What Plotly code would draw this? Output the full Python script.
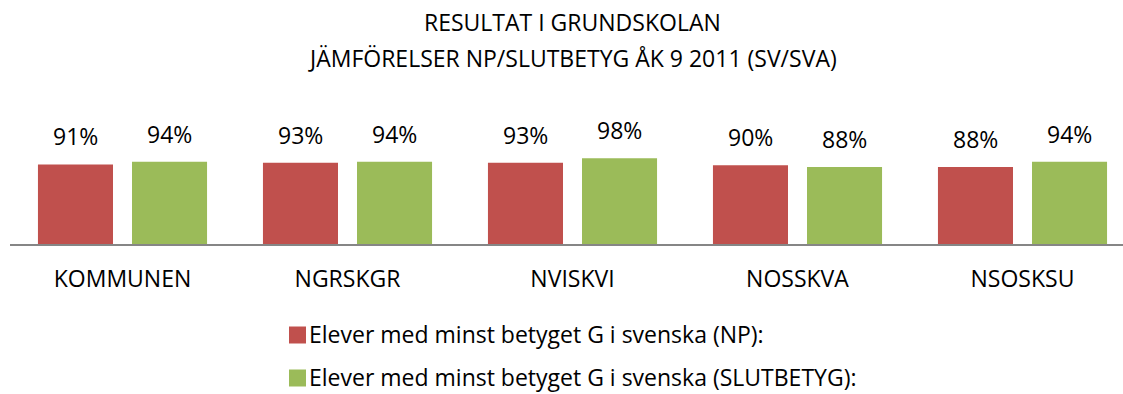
import plotly.graph_objects as go

# Skolor / enheter
categories = ["KOMMUNEN", "NGRSKGR", "NVISKVI", "NOSSKVA", "NSOSKSU"]

# Andel elever med minst betyget G (andel, 0-1)
np_values = [0.91, 0.93, 0.93, 0.90, 0.88]
slutbetyg_values = [0.94, 0.94, 0.98, 0.88, 0.94]

series_names = [
    "Elever med minst betyget G i svenska (NP):",
    "Elever med minst betyget G i svenska (SLUTBETYG):",
]
series_colors = ["#C0504D", "#9BBB59"]

title_lines = [
    "RESULTAT I GRUNDSKOLAN",
    "JÄMFÖRELSER NP/SLUTBETYG ÅK 9 2011 (SV/SVA)",
]

FONT = "Open Sans"
FS = 23
W, H = 1123, 394
L, R, T, B = 10, 0, 139, 150

fig = go.Figure()
for name, vals, color in zip(series_names, [np_values, slutbetyg_values], series_colors):
    fig.add_trace(go.Bar(
        x=categories, y=vals, name=name,
        marker=dict(color=color, line=dict(width=0)),
        showlegend=False,
    ))

# Percent labels above each bar
annotations = []
for k, vals in enumerate([np_values, slutbetyg_values]):
    for i, v in enumerate(vals):
        annotations.append(dict(
            x=i, y=v, xref="x", yref="y", text=f"{round(v * 100)}%",
            showarrow=False, yanchor="bottom", yshift=10,
            xshift=(-47 if k == 0 else 47),
            font=dict(family=FONT, size=FS, color="#000000"),
        ))

plot_w = W - L - R
plot_h = H - T - B

def px_to_paper_x(px):
    return (px - L) / plot_w

def px_to_paper_y(py):
    return (H - B - py) / plot_h

# Title, two centered lines
for line, py in zip(title_lines, [22, 58]):
    annotations.append(dict(
        x=px_to_paper_x(572), y=px_to_paper_y(py), xref="paper", yref="paper",
        text=line, showarrow=False, xanchor="center", yanchor="middle",
        font=dict(family=FONT, size=FS, color="#000000"),
    ))

# Legend built from square markers and labels
shapes = []
for name, color, py in zip(series_names, series_colors, [335, 378]):
    shapes.append(dict(
        type="rect", xref="paper", yref="paper",
        x0=px_to_paper_x(289), x1=px_to_paper_x(306),
        y0=px_to_paper_y(py + 8.5), y1=px_to_paper_y(py - 8.5),
        fillcolor=color, line=dict(width=0),
    ))
    annotations.append(dict(
        x=px_to_paper_x(307), y=px_to_paper_y(py - 1), xref="paper", yref="paper",
        text=name, showarrow=False, xanchor="left", yanchor="middle",
        font=dict(family=FONT, size=FS, color="#000000"),
    ))

fig.update_layout(
    width=W, height=H,
    margin=dict(l=L, r=R, t=T, b=B, pad=0),
    paper_bgcolor="white", plot_bgcolor="white",
    barmode="group", bargap=0.164, bargroupgap=0.202,
    annotations=annotations, shapes=shapes,
    showlegend=False,
)
fig.update_xaxes(
    range=[-0.5, -0.5 + plot_w / 225.0],
    showline=True, linecolor="#868686", linewidth=2,
    showgrid=False, ticks="",
    tickfont=dict(family=FONT, size=FS, color="#000000"),
    ticklabelstandoff=13,
)
fig.update_yaxes(
    range=[0, 1.2], visible=False, showgrid=False,
)

fig.write_html("out.html")
